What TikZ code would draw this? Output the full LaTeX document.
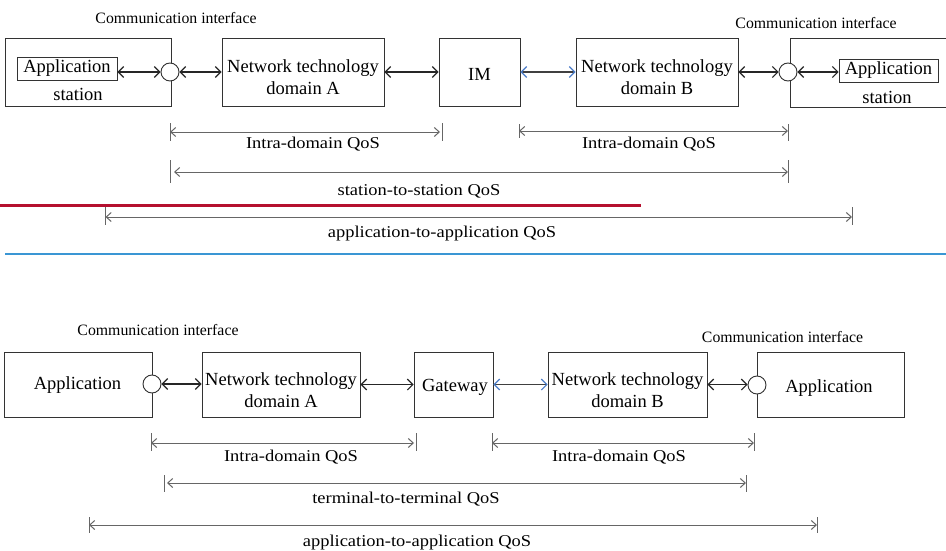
\documentclass[tikz,border=0pt]{standalone}
\usepackage{fontspec}
\setmainfont{Liberation Serif}
\newfontfamily\qosfamily[FakeStretch=1.12]{Liberation Serif}
\usetikzlibrary{arrows.meta}

\definecolor{boxline}{HTML}{333333}
\definecolor{qosline}{HTML}{666666}
\definecolor{headblue}{HTML}{4A7CC8}
\definecolor{divred}{HTML}{B5102F}
\definecolor{divblue}{HTML}{3A96D4}

\tikzset{
  box/.style={draw=boxline, line width=0.9pt, inner sep=0pt},
  iface/.style={circle, draw=boxline, line width=0.9pt, fill=white, minimum size=18pt, inner sep=0pt},
  boxtxt/.style={inner sep=0pt, anchor=base, font=\fontsize{18.5}{22}\selectfont},
  citxt/.style={inner sep=0pt, anchor=base, font=\fontsize{15.8}{18}\selectfont},
  qostxt/.style={inner sep=0pt, anchor=base, font=\qosfamily\fontsize{16.5}{20}\selectfont},
  conn/.style={draw=black!85, line width=1.1pt,
    {Straight Barb[length=5.5pt,width=11pt]}-{Straight Barb[length=5.5pt,width=11pt]}},
  connb/.style={draw=black!75, line width=1.1pt,
    {Straight Barb[length=5.5pt,width=11pt,color=headblue]}-{Straight Barb[length=5.5pt,width=11pt,color=headblue]}},
  qos/.style={draw=qosline, line width=1pt,
    {Straight Barb[length=5pt,width=9pt]}-{Straight Barb[length=5pt,width=9pt]}},
  tick/.style={draw=qosline, line width=0.9pt},
}

\begin{document}
\begin{tikzpicture}[x=1pt,y=-1pt]
\clip (0,0) rectangle (946,551);
\fill[white] (0,0) rectangle (946,551);

%% ---------- upper chain: stations and IM ----------
\node[box, minimum width=166pt, minimum height=68pt] (stL) at (88,72) {};
\node[box, minimum width=100pt, minimum height=23pt] (appL) at (67,68.5) {};
\node[boxtxt] (appLt) at (67,73) {Application};
\node[boxtxt] (stLt) at (78,100) {station};
\node[iface] (ciL) at (170,72) {};
\node[citxt] (ciLt) at (176,23.5) {Communication interface};

\node[box, minimum width=162pt, minimum height=68pt] (netA) at (303,72) {};
\node[boxtxt] (netAt1) at (303,73) {Network technology};
\node[boxtxt] (netAt2) at (303,95) {domain A};

\node[box, minimum width=81pt, minimum height=68pt] (im) at (479.5,72) {};
\node[boxtxt] (imt) at (479.5,80.5) {IM};

\node[box, minimum width=162pt, minimum height=68pt] (netB) at (657,72) {};
\node[boxtxt] (netBt1) at (657,73) {Network technology};
\node[boxtxt] (netBt2) at (657,95) {domain B};

\node[box, minimum width=170pt, minimum height=69pt] (stR) at (875,72.5) {};
\node[box, minimum width=99pt, minimum height=23pt] (appR) at (888.5,70.5) {};
\node[boxtxt] (appRt) at (888.5,75) {Application};
\node[boxtxt] (stRt) at (887,103) {station};
\node[iface] (ciR) at (788,72) {};
\node[citxt] (ciRt) at (816,28.5) {Communication interface};

\draw[conn] (ciL.west -| appL.east) -- (ciL.west);
\draw[conn] (ciL.east) -- (netA.west);
\draw[conn] (netA.east) -- (im.west);
\draw[connb] (im.east) -- (netB.west);
\draw[conn] (netB.east) -- (ciR.west);
\draw[conn] (ciR.east) -- (ciR.east -| appR.west);

%% ---------- upper QoS spans ----------
\coordinate (u1a) at (170,132);  \coordinate (u1b) at (442,132);
\coordinate (u2a) at (519,131);  \coordinate (u2b) at (788,131);
\coordinate (u3a) at (170,172);  \coordinate (u3b) at (788,172);
\coordinate (u4a) at (105.5,217); \coordinate (u4b) at (852,217);

\draw[tick] (170,123) -- (170,141);  \draw[tick] (442,123) -- (442,141);
\draw[tick] (519,124) -- (519,138);  \draw[tick] (788,124) -- (788,141);
\draw[tick] (170,160) -- (170,183);  \draw[tick] (788,160) -- (788,183);
\draw[tick] (105.5,207) -- (105.5,225); \draw[tick] (852,207) -- (852,225);

\draw[qos, shorten >=2pt] (u1a) -- (u1b);
\draw[qos] (u2a) -- (u2b);
\draw[qos, shorten <=4pt] (u3a) -- (u3b);
\draw[qos] (u4a) -- (u4b);

\node[qostxt] (u1t) at (313,149) {Intra-domain QoS};
\node[qostxt] (u2t) at (649,148.5) {Intra-domain QoS};
\node[qostxt] (u3t) at (419,195) {station-to-station QoS};
\node[qostxt] (u4t) at (442,237) {application-to-application QoS};

%% ---------- divider rules ----------
\draw[divred, line width=3pt] (0,205) -- (641,205);
\draw[divblue, line width=2pt] (5,254) -- (946,254);

%% ---------- lower chain: applications and gateway ----------
\node[box, minimum width=148pt, minimum height=65pt] (appL2) at (78,384.5) {};
\node[boxtxt] (appL2t) at (77.5,389) {Application};
\node[iface] (ciL2) at (152,384) {};
\node[citxt] (ciL2t) at (158,335.5) {Communication interface};

\node[box, minimum width=158pt, minimum height=65pt] (netA2) at (281,384.5) {};
\node[boxtxt] (netA2t1) at (281,385) {Network technology};
\node[boxtxt] (netA2t2) at (281,407) {domain A};

\node[box, minimum width=79pt, minimum height=65pt] (gw) at (453.5,384.5) {};
\node[boxtxt] (gwt) at (455,391) {Gateway};

\node[box, minimum width=159pt, minimum height=65pt] (netB2) at (627.5,384.5) {};
\node[boxtxt] (netB2t1) at (627.5,385) {Network technology};
\node[boxtxt] (netB2t2) at (627.5,407) {domain B};

\node[box, minimum width=147pt, minimum height=65pt] (appR2) at (830.5,384.5) {};
\node[boxtxt] (appR2t) at (829,392) {Application};
\node[iface] (ciR2) at (757,385) {};
\node[citxt] (ciR2t) at (782.5,342.5) {Communication interface};

\draw[conn] (ciL2.east) -- (ciL2.east -| netA2.west);
\draw[conn] (netA2.east) -- (gw.west);
\draw[connb] (gw.east) -- (netB2.west);
\draw[conn] (netB2.east) -- (netB2.east -| ciR2.west);

%% ---------- lower QoS spans ----------
\coordinate (l1a) at (151,443);  \coordinate (l1b) at (416,443);
\coordinate (l2a) at (492,443);  \coordinate (l2b) at (754,443);
\coordinate (l3a) at (164,483);  \coordinate (l3b) at (746,483);
\coordinate (l4a) at (89,525);   \coordinate (l4b) at (817,525);

\draw[tick] (151,433) -- (151,451);  \draw[tick] (416,433) -- (416,451);
\draw[tick] (492,433) -- (492,451);  \draw[tick] (754,433) -- (754,451);
\draw[tick] (164,475) -- (164,492);  \draw[tick] (746,475) -- (746,492);
\draw[tick] (89,517) -- (89,533);    \draw[tick] (817,517) -- (817,533);

\draw[qos, shorten >=2pt] (l1a) -- (l1b);
\draw[qos] (l2a) -- (l2b);
\draw[qos, shorten <=3pt] (l3a) -- (l3b);
\draw[qos] (l4a) -- (l4b);

\node[qostxt] (l1t) at (291,461.5) {Intra-domain QoS};
\node[qostxt] (l2t) at (619,461.5) {Intra-domain QoS};
\node[qostxt] (l3t) at (406,503.5) {terminal-to-terminal QoS};
\node[qostxt] (l4t) at (417,546) {application-to-application QoS};
\end{tikzpicture}
\end{document}
